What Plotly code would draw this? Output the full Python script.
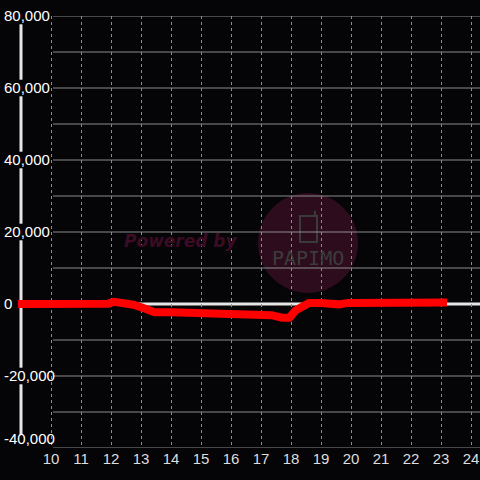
import plotly.graph_objects as go

# ---- data ----
hours = [8.9, 10.0, 11.0, 11.9, 12.1, 12.4, 12.75, 13.1, 13.45, 14.0, 14.6, 14.95,
         15.5, 16.0, 16.5, 17.0, 17.35, 17.7, 17.95, 18.15, 18.4, 18.6, 19.0, 19.3,
         19.6, 19.9, 20.5, 21.0, 22.0, 23.2]
values = [0, 0, 0, 100, 600, 300, -200, -1200, -2300, -2300, -2400, -3000,
          -3000, -3000, -3000, -3000, -3100, -3800, -3800, -1800, -900, 300, 300, 100,
          -100, 300, 400, 400, 400, 400]
x_ticks = list(range(10, 25))
y_grid = list(range(-40000, 80001, 10000))
y_ticks = list(range(-40000, 80001, 20000))
y_labels = [f"{v:,}" for v in y_ticks]

W, H = 480, 480
T, B = 16, 32
PH = H - T - B
XMIN, XMAX = 8.3, 24.3
YMIN, YMAX = -40000, 80000


def px(xp):
    return xp / W


def py(yp):
    return (H - B - yp) / PH


BG = "#050407"
GRID = "#8c8c8c"
TXT = "#dedede"

# lowest label sits just above its grid line (as in the reference)
y_text = [(lbl + "<br> ") if v == YMIN else lbl for v, lbl in zip(y_ticks, y_labels)]

fig = go.Figure()
fig.add_trace(go.Scatter(x=hours, y=values, mode="lines",
                         line=dict(color="#ff0000", width=8),
                         hoverinfo="skip", showlegend=False))

shapes = []
# watermark circle
shapes.append(dict(type="circle", xref="paper", yref="paper",
                   x0=px(258), x1=px(358), y0=py(293), y1=py(193),
                   fillcolor="#2d0c1d", line=dict(width=0), layer="below"))
# phone icon
shapes.append(dict(type="rect", xref="paper", yref="paper",
                   x0=px(300), x1=px(317), y0=py(242), y1=py(216),
                   line=dict(color="#3a3a3a", width=2), layer="below"))
shapes.append(dict(type="line", xref="paper", yref="paper",
                   x0=px(315), x1=px(315), y0=py(216), y1=py(211),
                   line=dict(color="#3a3a3a", width=2), layer="below"))
# horizontal grid lines
for v in y_grid:
    if v == 0:
        continue
    shapes.append(dict(type="line", xref="paper", yref="y",
                       x0=px(53), x1=1, y0=v, y1=v,
                       line=dict(color=GRID, width=1), layer="below"))
# zero line
shapes.append(dict(type="line", xref="x", yref="y", x0=9, x1=XMAX, y0=0, y1=0,
                   line=dict(color="#e6e6e6", width=3), layer="below"))
# y axis line with gaps behind labels
gap = 2300
for a, b in zip(y_ticks[:-1], y_ticks[1:]):
    y0 = a + (gap if a != 0 else 0)
    y1 = b - (gap if b != 0 else 0)
    if a == YMIN:
        y0 = a + 3600
    shapes.append(dict(type="line", xref="x", yref="y", x0=9, x1=9, y0=y0, y1=y1,
                       line=dict(color="#e6e6e6", width=3), layer="below"))

fig.update_layout(
    width=W, height=H,
    margin=dict(l=0, r=0, t=T, b=B),
    paper_bgcolor=BG, plot_bgcolor=BG,
    font=dict(family="Liberation Sans, Arial, sans-serif", size=15, color=TXT),
    shapes=shapes,
    xaxis=dict(range=[XMIN, XMAX], tickvals=x_ticks, ticktext=[str(t) for t in x_ticks],
               showgrid=True, gridcolor=GRID, gridwidth=1, griddash="3px,3px",
               zeroline=False, showline=False, ticks="", fixedrange=True),
    yaxis=dict(range=[YMIN, YMAX], tickvals=y_ticks, ticktext=y_text,
               anchor="free", position=0, side="left",
               ticklabelposition="inside", ticklabeloverflow="allow",
               showgrid=False, zeroline=False, showline=False, ticks="",
               fixedrange=True),
    annotations=[
        dict(text="<b><i>Powered by</i></b>", xref="paper", yref="paper",
             x=px(181), y=py(241), showarrow=False,
             font=dict(family="DejaVu Sans", size=17, color="#3b0c24")),
        dict(text="PAPIMO", xref="paper", yref="paper",
             x=px(308), y=py(258), showarrow=False,
             font=dict(family="DejaVu Sans Mono", size=20, color="#3c3c3c")),
    ],
)

fig.write_html("out.html", config={"displayModeBar": False},
               post_script="document.body.style.margin='0';document.body.style.padding='0';"
                           "document.body.style.background='" + BG + "';")
